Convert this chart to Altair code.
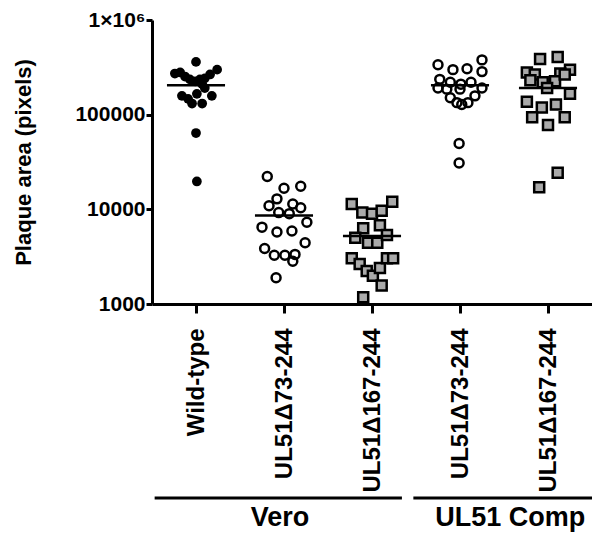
import json
import altair as alt
import pandas as pd

# ---- data ----
group_names = ["Wild-type", "UL51\u039473-244", "UL51\u0394167-244", "UL51\u039473-244", "UL51\u0394167-244"]
group_marker = ["filled", "open", "square", "open", "square"]

g1_values = [361000, 272000, 279000, 253000, 236000, 225000, 236000, 242000, 266000, 299000,
             210000, 191000, 158000, 147000, 131000, 131000, 158000, 166000, 64000, 19700]
g1_jitter = [0, -0.24, -0.18, -0.125, -0.07, -0.01, 0.045, 0.10, 0.16, 0.24,
             0.07, 0.10, -0.16, -0.09, -0.045, 0.07, 0.18, 0.01, 0, 0.01]

g2_values = [22200, 16700, 17500, 12900, 10900, 11400, 10400, 9240, 9000, 7290,
             6480, 5760, 5900, 4440, 3850, 3270, 3270, 3340, 2830, 1890]
g2_jitter = [-0.19, 0, 0.19, -0.08, -0.17, 0.10, 0.19, -0.06, 0.06, 0.26,
             -0.25, -0.08, 0.09, 0.24, -0.22, -0.11, 0.01, 0.125, 0.10, -0.09]

g3_values = [11400, 9240, 9000, 9690, 12000, 6330, 6790, 5000, 4440, 4440,
             5360, 3040, 2640, 2230, 1990, 2400, 3040, 3040, 1570, 1180]
g3_jitter = [-0.23, -0.11, 0, 0.11, 0.23, -0.10, 0.09, -0.19, -0.045, 0.06,
             0.17, -0.23, -0.14, -0.06, 0.01, 0.09, 0.17, 0.24, 0.11, -0.10]

g4_values = [337000, 299000, 306000, 379000, 285000, 236000, 220000, 210000, 220000, 191000,
             186000, 191000, 151000, 134000, 128000, 134000, 158000, 186000, 49600, 30900]
g4_jitter = [-0.25, -0.08, 0.08, 0.25, 0.25, -0.23, -0.11, 0.01, 0.125, -0.25,
             -0.15, 0.25, -0.11, -0.035, 0.02, 0.09, 0.17, 0, -0.01, -0.01]

g5_values = [388000, 407000, 279000, 299000, 266000, 272000, 220000, 225000, 166000, 137000,
             119000, 128000, 94000, 77700, 94000, 191000, 24400, 17100, 231000, 266000]
g5_jitter = [-0.09, 0.11, -0.24, 0.25, -0.15, 0.14, -0.06, 0.08, 0.25, -0.24,
             -0.07, 0.09, -0.18, 0, 0.19, -0.01, 0.11, -0.10, -0.20, 0.19]

group_means = [205000, 8600, 5240, 205000, 191000]
mean_half_width = 0.33

bracket_labels = ["Vero", "UL51 Comp"]
bracket_start = [-0.47, 2.47]
bracket_end = [2.34, 4.57]
bracket_label_pos = [0.955, 3.57]

y_ticks = [1000, 10000, 100000, 1000000]

# ---- tables ----
all_values = [g1_values, g2_values, g3_values, g4_values, g5_values]
all_jitter = [g1_jitter, g2_jitter, g3_jitter, g4_jitter, g5_jitter]
rows = []
for gi, (vals, jit) in enumerate(zip(all_values, all_jitter)):
    for v, j in zip(vals, jit):
        rows.append({"x": gi + j, "value": v, "marker": group_marker[gi]})
points = pd.DataFrame(rows)

means = pd.DataFrame({
    "x": [i - mean_half_width for i in range(5)],
    "x2": [i + mean_half_width for i in range(5)],
    "value": group_means,
})

brackets = pd.DataFrame({
    "start": bracket_start, "end": bracket_end,
    "pos": bracket_label_pos, "label": bracket_labels,
})

FONT = "Liberation Sans"

xscale = alt.Scale(domain=[-0.5, 4.5], nice=False, zero=False)
yscale = alt.Scale(type="log", domain=[1000, 1000000], nice=False)

label_expr_x = json.dumps(group_names) + "[datum.value]"
label_expr_y = "datum.value >= 1000000 ? '1\u00d710\u2076' : format(datum.value, 'd')"

xenc = alt.X("x:Q", scale=xscale, axis=alt.Axis(
    title=None, values=[0, 1, 2, 3, 4], labelExpr=label_expr_x, labelAngle=270,
    labelAlign="right", labelBaseline="middle", labelFontSize=24, labelFontWeight="bold",
    labelFont=FONT, labelColor="black", labelPadding=15, tickSize=9, tickWidth=3,
    tickColor="black", domainWidth=3, domainColor="black", grid=False, labelFlush=False,
    labelOverlap=False))
yenc = alt.Y("value:Q", scale=yscale, axis=alt.Axis(
    title="Plaque area (pixels)", values=y_ticks, labelExpr=label_expr_y,
    labelFontSize=21, labelFontWeight="bold", labelFont=FONT, labelColor="black",
    labelPadding=1, tickSize=6, tickWidth=3, tickColor="black", domainWidth=3,
    domainColor="black", grid=False, titleFontSize=22, titleFont=FONT,
    titleFontWeight="bold", titleColor="black", titlePadding=39, labelFlush=False,
    labelOverlap=False))

base = alt.Chart(points)

squares = base.transform_filter(alt.datum.marker == "square").mark_point(
    shape="square", filled=True, fill="#aaaaaa", stroke="black", strokeWidth=2.5,
    size=100, opacity=1).encode(x=xenc, y=yenc)
filled = base.transform_filter(alt.datum.marker == "filled").mark_point(
    shape="circle", filled=True, color="black", size=95, opacity=1).encode(x=xenc, y=yenc)
opened = base.transform_filter(alt.datum.marker == "open").mark_point(
    shape="circle", filled=False, stroke="black", strokeWidth=2.5, size=80,
    opacity=1).encode(x=xenc, y=yenc)

mean_lines = alt.Chart(means).mark_rule(color="black", strokeWidth=2.5).encode(
    x=alt.X("x:Q", scale=xscale), x2="x2:Q", y=alt.Y("value:Q", scale=yscale))

bracket_rules = alt.Chart(brackets).mark_rule(color="black", strokeWidth=3, clip=False).encode(
    x=alt.X("start:Q", scale=xscale), x2="end:Q", y=alt.value(478))
bracket_text = alt.Chart(brackets).mark_text(
    font=FONT, fontSize=27, fontWeight="bold", color="black", baseline="middle",
    align="center", clip=False).encode(
    x=alt.X("pos:Q", scale=xscale), y=alt.value(498), text="label:N")

chart = alt.layer(squares, opened, filled, mean_lines, bracket_rules, bracket_text).properties(
    width=440, height=284,
    autosize=alt.AutoSizeParams(type="none"),
    padding={"left": 144, "top": 12, "right": 0, "bottom": 230},
).configure_view(stroke=None)

chart.save("out.html", embed_options={"renderer": "svg", "actions": False})
